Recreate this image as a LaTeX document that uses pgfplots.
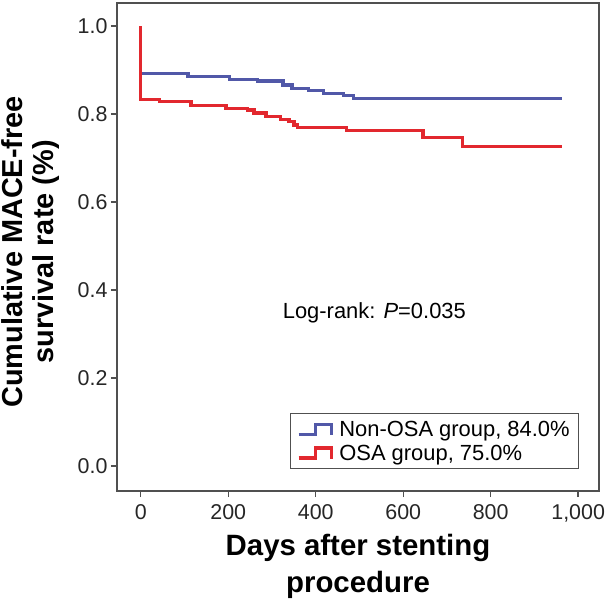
\documentclass[border=0pt]{standalone}
\usepackage{fontspec}
\setmainfont{Liberation Sans}
\usepackage{pgfplots}
\pgfplotsset{compat=1.18}
\definecolor{nonosa}{HTML}{5158A8}
\definecolor{osa}{HTML}{E2282E}
\definecolor{axgray}{HTML}{505050}
\begin{document}
\begin{tikzpicture}
\begin{axis}[
  name=ax,
  scale only axis, width=482bp, height=488bp,
  xmin=-54.5, xmax=1047.7, ymin=-0.0568, ymax=1.0523,
  axis line style={axgray, line width=1.3bp},
  every tick/.style={axgray, line width=1.3bp},
  xtick={0,200,400,600,800,1000}, ytick={0,0.2,0.4,0.6,0.8,1.0},
  xtick pos=left, ytick pos=left,
  tick align=outside, major tick length=6bp,
  /pgf/number format/assume math mode=true,
  ticklabel style={font=\fontsize{21.5}{26}\selectfont, text=black!85},
  x tick label style={/pgf/number format/1000 sep={,}, yshift=-4bp},
  y tick label style={/pgf/number format/.cd, fixed, fixed zerofill, precision=1},
  xlabel={Days after stenting\\procedure},
  xlabel style={font=\bfseries\fontsize{29.5}{37}\selectfont, align=center, at={(axis description cs:0.5,0)}, anchor=north, yshift=-40bp},
  ylabel={Cumulative MACE-free\\survival rate (\%)},
  ylabel style={font=\bfseries\fontsize{29}{31.5}\selectfont, align=center, at={(axis description cs:0,0.49)}, anchor=south, yshift=54bp},
  legend style={at={(rel axis cs:0.9588,0.0451)}, anchor=south east, draw=axgray, line width=1bp,
    font=\fontsize{22}{26}\selectfont, inner xsep=7bp, inner ysep=5bp, row sep=3bp, column sep=4bp},
  legend cell align=left,
  legend image code/.code={\draw[#1] (0bp,-5bp) -- (17bp,-5bp) -- (17bp,5bp) -- (33bp,5bp) -- (33bp,-6bp);},
]
\addplot[const plot, nonosa, line width=3.3bp] coordinates {
(0,1.0) (0,0.892) (108,0.886) (202,0.879) (267,0.875) (325,0.866) (346,0.858)
(384,0.853) (418,0.847) (464,0.842) (486,0.836) (964,0.836)};
\addlegendentry{Non-OSA group, 84.0\%}
\addplot[const plot, osa, line width=3.3bp] coordinates {
(0,1.0) (0,0.833) (43,0.828) (115,0.820) (195,0.813) (244,0.809) (259,0.802)
(286,0.795) (320,0.788) (339,0.783) (350,0.775) (358,0.769) (471,0.762)
(645,0.746) (736,0.726) (964,0.726)};
\addlegendentry{OSA group, 75.0\%}
\node[font=\fontsize{22}{26}\selectfont] at (axis cs:534,0.348) {Log-rank: \textit{P}=0.035};
\end{axis}
\pgfresetboundingbox
\path ([shift={(-117bp,-110bp)}]ax.south west) rectangle ([shift={(7bp,3bp)}]ax.north east);
\end{tikzpicture}
\end{document}
